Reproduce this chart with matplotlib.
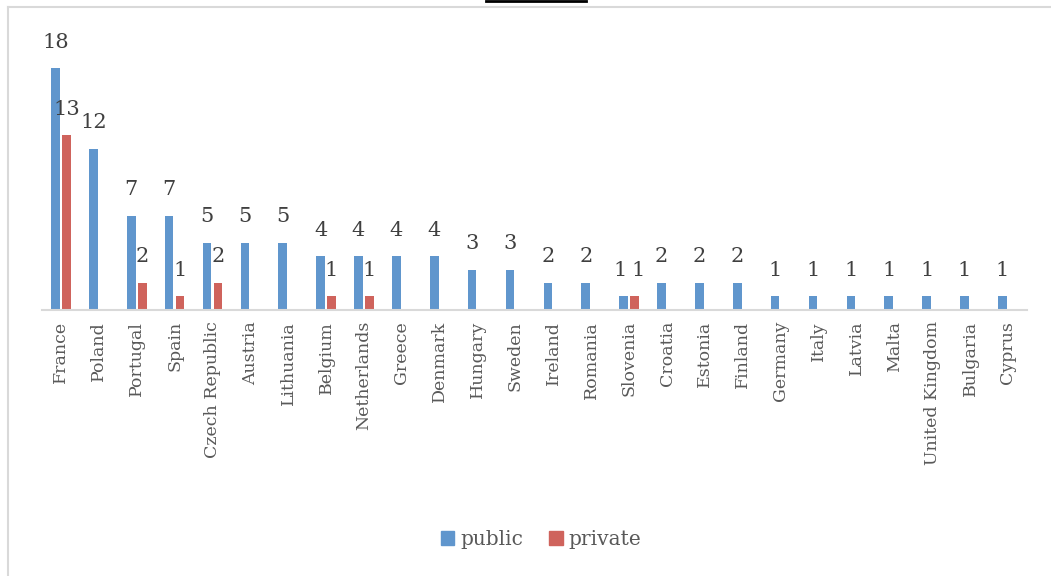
import matplotlib.pyplot as plt
from matplotlib.lines import Line2D
from matplotlib.patches import Patch
import numpy as np

countries = ['France', 'Poland', 'Portugal', 'Spain', 'Czech Republic', 'Austria',
             'Lithuania', 'Belgium', 'Netherlands', 'Greece', 'Denmark', 'Hungary',
             'Sweden', 'Ireland', 'Romania', 'Slovenia', 'Croatia', 'Estonia',
             'Finland', 'Germany', 'Italy', 'Latvia', 'Malta', 'United Kingdom',
             'Bulgaria', 'Cyprus']
public = [18, 12, 7, 7, 5, 5, 5, 4, 4, 4, 4, 3, 3, 2, 2, 1, 2, 2, 2, 1, 1, 1, 1, 1, 1, 1]
private = [13, 0, 2, 1, 2, 0, 0, 1, 1, 0, 0, 0, 0, 0, 0, 1, 0, 0, 0, 0, 0, 0, 0, 0, 0, 0]

blue = '#6096cd'
red = '#cf635c'
plt.rcParams['font.family'] = ['DejaVu Serif']

fig = plt.figure(figsize=(10.51, 5.76), dpi=100)
ax = fig.add_axes([0.040, 0.462, 0.937, 0.466])

x = np.arange(len(countries))
w = 0.23
off = 0.145
bars_pub = ax.bar(x - off, public, width=w, color=blue, label='public')
bars_priv = ax.bar(x + off, private, width=w, color=red, label='private')

# data labels, zeros hidden; nudge apart when both labels sit at the same height
for i in range(len(countries)):
    same = public[i] == private[i]
    for b, v, dx in [(bars_pub[i], public[i], -2.5 if same else 0),
                     (bars_priv[i], private[i], 2.5 if same else 0)]:
        if v == 0:
            continue
        ax.annotate(str(v), (b.get_x() + b.get_width() / 2, v),
                    xytext=(dx, 12), textcoords='offset points',
                    ha='center', va='bottom', fontsize=15, color='#404040')

ax.set_xlim(-0.5, len(countries) - 0.5)
ax.set_ylim(0, 20)
ax.set_xticks(x)
ax.set_xticklabels(countries, rotation=90, fontsize=12.5, color='#595959')
ax.tick_params(axis='x', length=0, pad=8)
ax.set_yticks([])
for s in ['left', 'right', 'top']:
    ax.spines[s].set_visible(False)
ax.spines['bottom'].set_color('#d9d9d9')
ax.spines['bottom'].set_linewidth(1.5)

handles = [Patch(color=blue), Patch(color=red)]
fig.legend(handles, ['public', 'private'], loc='center', bbox_to_anchor=(0.515, 0.063),
           ncol=2, frameon=False, fontsize=14.5, handlelength=0.65, handleheight=0.65,
           handletextpad=0.3, columnspacing=1.3, labelcolor='#595959')

# chart area border and cropped title underline
fig.add_artist(Line2D([7.5 / 1051, 7.5 / 1051], [0, 1 - 7 / 576], color='#d9d9d9', lw=1.5))
fig.add_artist(Line2D([7.5 / 1051, 1], [1 - 7 / 576, 1 - 7 / 576], color='#d9d9d9', lw=1.5))
fig.add_artist(Line2D([486 / 1051, 586 / 1051], [1 - 1 / 576, 1 - 1 / 576], color='black', lw=2))

fig.savefig('out.png', dpi=100)
